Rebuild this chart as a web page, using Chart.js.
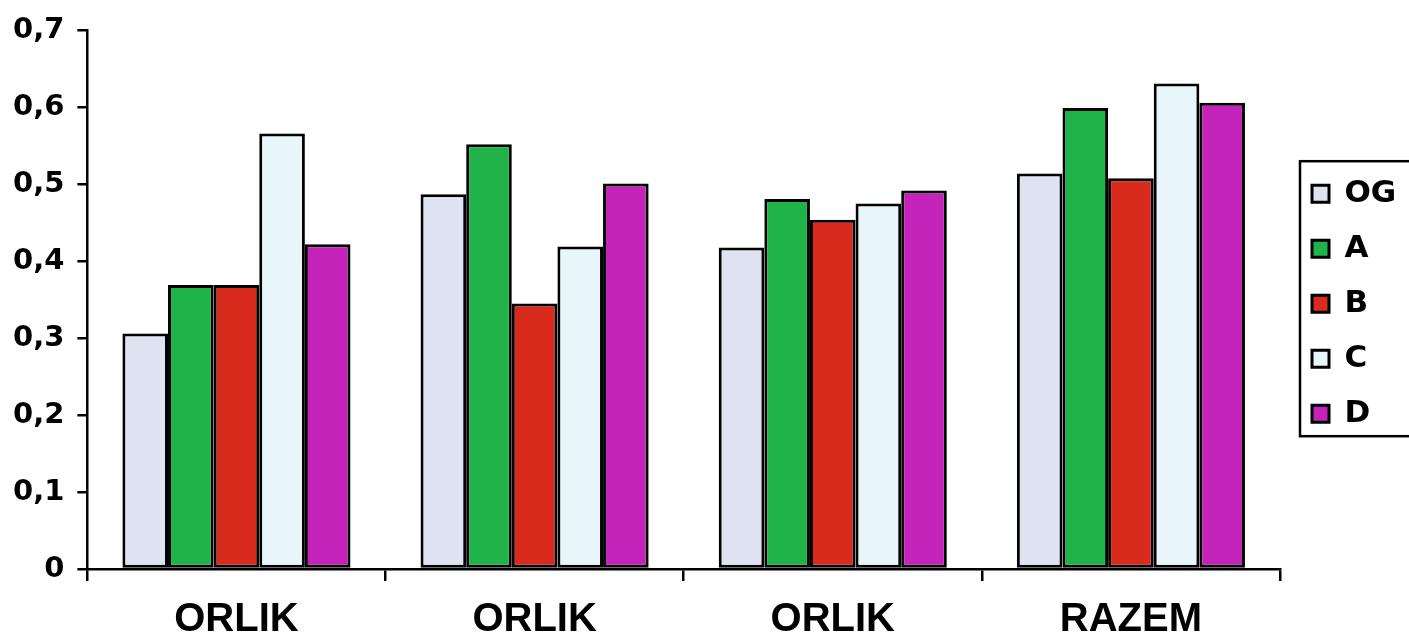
<html>

<head>
  <title>ORLIK / RAZEM</title>
  <script src="https://cdn.jsdelivr.net/npm/chart.js"></script>
  <style>
    body {
      margin: 0;
      background: #ffffff;
    }

    #wrap {
      width: 1409px;
      height: 642px;
    }
  </style>
</head>

<body>
  <div id="wrap">
    <canvas id="barChart" width="1409" height="642"></canvas>
  </div>

  <script>
    // data
    const categories = ["ORLIK", "ORLIK", "ORLIK", "RAZEM"];
    const seriesNames = ["OG", "A", "B", "C", "D"];
    const valuesOG = [0.306, 0.487, 0.418, 0.514];
    const valuesA = [0.369, 0.552, 0.481, 0.599];
    const valuesB = [0.369, 0.345, 0.454, 0.508];
    const valuesC = [0.566, 0.419, 0.475, 0.631];
    const valuesD = [0.422, 0.501, 0.492, 0.606];
    const yTicks = [0, 0.1, 0.2, 0.3, 0.4, 0.5, 0.6, 0.7];

    const seriesValues = [valuesOG, valuesA, valuesB, valuesC, valuesD];
    const colors = ["#dfe3f1", "#1fb34a", "#d92a1e", "#e8f5f9", "#c423b9"];

    const boldWide = "'DejaVu Sans', 'Liberation Sans', Arial, sans-serif";
    const boldNarrow = "'Liberation Sans Narrow', 'Arial Narrow', 'Liberation Sans', Arial, sans-serif";

    // legend: fixed width, nudged a bit, plus a frame around the items
    const legendFrame = {
      id: 'legendFrame',
      beforeInit(chart) {
        const lg = chart.legend;
        const fit = lg.fit.bind(lg);
        lg.fit = function () {
          fit();
          this.width = 129;
        };
      },
      afterLayout(chart) {
        const lg = chart.legend;
        lg.left += 8;
        lg.right += 8;
        lg.top += 4;
        lg.bottom += 4;
      },
      afterDraw(chart) {
        const boxes = chart.legend.legendHitBoxes;
        if (!boxes || !boxes.length) return;
        const first = boxes[0];
        const last = boxes[boxes.length - 1];
        const ctx = chart.ctx;
        ctx.save();
        ctx.strokeStyle = '#000';
        ctx.lineWidth = 2.5;
        ctx.strokeRect(1300, first.top - 17, 130, last.top + last.height - first.top + 24);
        ctx.restore();
      }
    };

    const datasets = seriesNames.map((name, i) => ({
      label: name,
      data: seriesValues[i],
      backgroundColor: colors[i],
      borderColor: '#000',
      borderWidth: 3,
      borderSkipped: false,
      categoryPercentage: 0.765,
      barPercentage: 1.0
    }));

    new Chart('barChart', {
      type: 'bar',
      data: {
        labels: categories,
        datasets: datasets
      },
      options: {
        responsive: false,
        animation: false,
        layout: {
          padding: { top: 22, left: 0, right: 0, bottom: -17 }
        },
        plugins: {
          tooltip: { enabled: false },
          legend: {
            position: 'right',
            fullSize: false,
            labels: {
              color: '#000',
              font: { family: boldWide, size: 31, weight: 'bold' },
              boxWidth: 17,
              boxHeight: 17,
              padding: 24,
              useBorderRadius: false
            }
          }
        },
        scales: {
          x: {
            grid: {
              offset: true,
              drawOnChartArea: false,
              drawTicks: true,
              tickLength: 12,
              color: '#000',
              lineWidth: 2.5
            },
            border: { display: true, color: '#000', width: 2.5 },
            ticks: {
              color: '#000',
              padding: 19,
              font: { family: boldNarrow, size: 40, weight: 'bold', lineHeight: 1 }
            }
          },
          y: {
            min: 0,
            max: 0.7,
            afterBuildTicks(axis) {
              axis.ticks = yTicks.map(v => ({ value: v }));
            },
            grid: {
              drawOnChartArea: false,
              drawTicks: true,
              tickLength: 10,
              color: '#000',
              lineWidth: 2.5
            },
            border: { display: true, color: '#000', width: 2.5 },
            ticks: {
              color: '#000',
              padding: 13,
              font: { family: boldWide, size: 29, weight: 'bold' },
              callback: v => v === 0 ? '0' : v.toFixed(1).replace('.', ',')
            }
          }
        }
      },
      plugins: [legendFrame]
    });
  </script>
</body>

</html>
